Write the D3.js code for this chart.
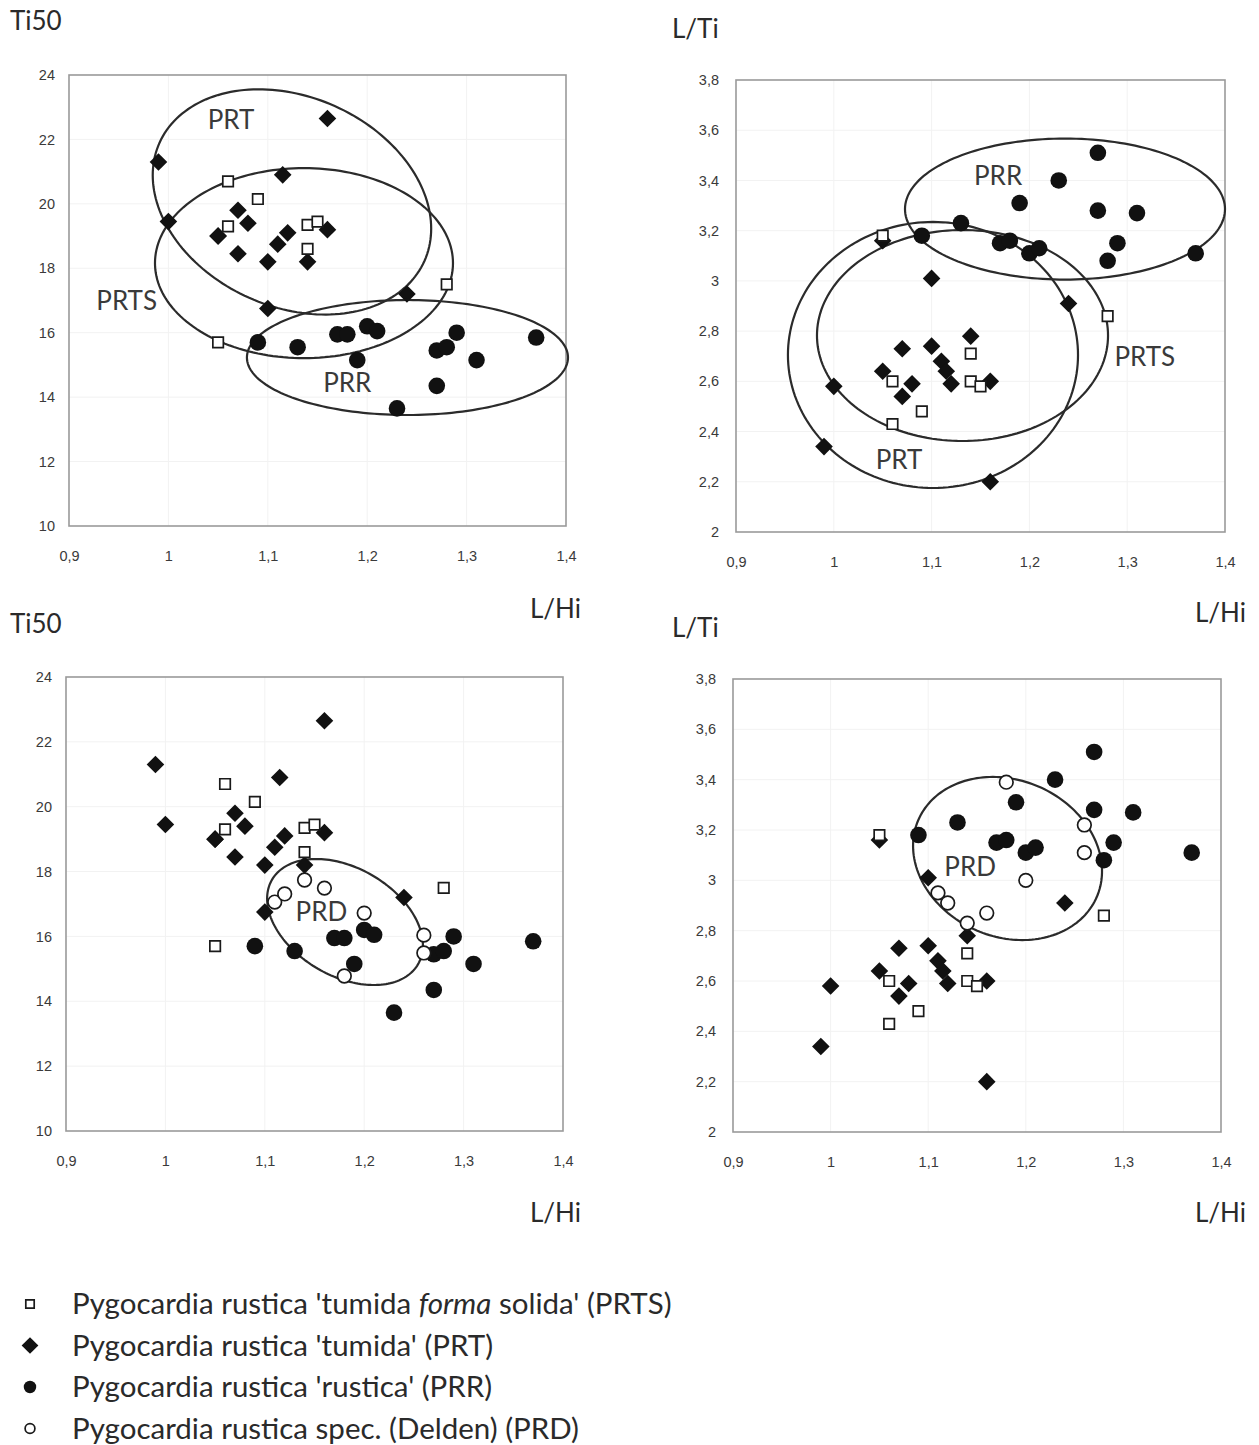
<!DOCTYPE html>
<html><head><meta charset="utf-8">
<script src="https://cdn.jsdelivr.net/npm/d3@7/dist/d3.min.js"></script>
<style>body{margin:0;background:#fff;} svg{display:block;}</style>
</head><body>
<svg id="chart" width="1259" height="1445"></svg>
<script>
// ---------- data ----------
const xTicks = [0.9, 1, 1.1, 1.2, 1.3, 1.4];
const ti50Ticks = [10, 12, 14, 16, 18, 20, 22, 24];
const ltiTicks = [2, 2.2, 2.4, 2.6, 2.8, 3, 3.2, 3.4, 3.6, 3.8];

// PRTS: Pygocardia rustica 'tumida forma solida'
const prtsLHi  = [1.05, 1.06, 1.06, 1.09, 1.14, 1.14, 1.15, 1.28];
const prtsTi50 = [15.7, 20.7, 19.3, 20.15, 19.35, 18.6, 19.45, 17.5];
const prtsLTi  = [3.18, 2.60, 2.43, 2.48, 2.71, 2.60, 2.58, 2.86];

// PRT: Pygocardia rustica 'tumida'
const prtLHi  = [0.99, 1.00, 1.05, 1.05, 1.07, 1.07, 1.08, 1.10, 1.10, 1.11, 1.115, 1.12, 1.14, 1.16, 1.16, 1.24];
const prtTi50 = [21.3, 19.45, 19.0, 19.0, 19.8, 18.45, 19.4, 18.2, 16.75, 18.75, 20.9, 19.1, 18.2, 22.65, 19.2, 17.2];
const prtLTi  = [2.34, 2.58, 3.16, 2.64, 2.73, 2.54, 2.59, 3.01, 2.74, 2.68, 2.64, 2.59, 2.78, 2.20, 2.60, 2.91];

// PRR: Pygocardia rustica 'rustica'
const prrLHi  = [1.09, 1.13, 1.17, 1.18, 1.19, 1.20, 1.21, 1.23, 1.27, 1.27, 1.28, 1.29, 1.31, 1.37];
const prrTi50 = [15.7, 15.55, 15.95, 15.95, 15.15, 16.2, 16.05, 13.65, 15.45, 14.35, 15.55, 16.0, 15.15, 15.85];
const prrLTi  = [3.18, 3.23, 3.15, 3.16, 3.31, 3.11, 3.13, 3.40, 3.51, 3.28, 3.08, 3.15, 3.27, 3.11];

// PRD: Pygocardia rustica spec. (Delden)
const prdLHi  = [1.11, 1.12, 1.14, 1.16, 1.18, 1.20, 1.26, 1.26];
const prdTi50 = [17.06, 17.31, 17.74, 17.49, 14.78, 16.72, 16.04, 15.49];
const prdLTi  = [2.95, 2.91, 2.83, 2.87, 3.39, 3.00, 3.22, 3.11];

// group ellipses in data units: centre and two conjugate semi-axis vectors
const ellTi50Top = [
  {name: "PRT",  c: [1.1243, 20.06], u: [0.1333, -1.832], v: [-0.0430, -2.977], lab: [1.063, 22.6]},
  {name: "PRTS", c: [1.1364, 18.16], u: [0.1499, 0],      v: [0, -2.949],       lab: [0.958, 17.0]},
  {name: "PRR",  c: [1.2405, 15.23], u: [0.1615, 0],      v: [0, -1.785],       lab: [1.18, 14.45]}
];
const ellLTiTop = [
  {name: "PRR",  c: [1.2364, 3.286], u: [0.1636, 0], v: [0, -0.2808], lab: [1.168, 3.42]},
  {name: "PRT",  c: [1.1014, 2.705], u: [0.1483, 0], v: [0, -0.5297], lab: [1.0667, 2.29]},
  {name: "PRTS", c: [1.1316, 2.7825], u: [0.1488, 0], v: [0, -0.4202], lab: [1.318, 2.70]}
];
const ellTi50Bottom = [
  {name: "PRD", c: [1.1807, 16.445], u: [0.0735, -1.301], v: [-0.0272, -1.443], lab: [1.157, 16.75]}
];
const ellLTiBottom = [
  {name: "PRD", c: [1.1813, 3.0868], u: [0.0915, -0.1522], v: [-0.0316, -0.2861], lab: [1.143, 3.053]}
];

const legendLabels = [
  ["Pygocardia rustica 'tumida ", "forma", " solida' (PRTS)"],
  ["Pygocardia rustica 'tumida' (PRT)"],
  ["Pygocardia rustica 'rustica' (PRR)"],
  ["Pygocardia rustica spec. (Delden) (PRD)"]
];

// ---------- drawing ----------
const svg = d3.select("#chart");
const loc = d3.formatLocale({decimal: ",", thousands: ".", grouping: [3], currency: ["", ""]});
const fmtTick = v => Math.abs(v - Math.round(v)) < 1e-9 ? loc.format(".0f")(v) : loc.format(".1f")(v);

const TITLE_FONT = "Lato, 'Open Sans', sans-serif";
const TICK_FONT = "'Liberation Sans', Arial, sans-serif";

function marker(sel, shape, scale = 1) {
  if (shape === "square") {
    sel.append("path").attr("d", d3.symbol(d3.symbolSquare, 110 * scale * scale)())
      .attr("fill", "#fff").attr("stroke", "#1a1a1a").attr("stroke-width", 1.7);
  } else if (shape === "diamond") {
    sel.append("path").attr("d", d3.symbol(d3.symbolSquare, 155 * scale * scale)())
      .attr("transform", "rotate(45)").attr("fill", "#111");
  } else if (shape === "disc") {
    sel.append("circle").attr("r", 8.3 * scale).attr("fill", "#111");
  } else {
    sel.append("circle").attr("r", 6.8 * scale).attr("fill", "#fff")
      .attr("stroke", "#1a1a1a").attr("stroke-width", 1.7);
  }
}

function panel(opt) {
  const g = svg.append("g");
  const x = d3.scaleLinear().domain([0.9, 1.4]).range([opt.x0, opt.x1]);
  const y = d3.scaleLinear().domain([opt.yTicks[0], opt.yTicks[opt.yTicks.length - 1]]).range([opt.y1, opt.y0]);

  // very faint grid
  g.append("g").selectAll("line").data(xTicks.slice(1, -1)).join("line")
    .attr("x1", d => x(d)).attr("x2", d => x(d)).attr("y1", opt.y0).attr("y2", opt.y1)
    .attr("stroke", "#f2f2f2").attr("stroke-width", 1);
  g.append("g").selectAll("line").data(opt.yTicks.slice(1, -1)).join("line")
    .attr("y1", d => y(d)).attr("y2", d => y(d)).attr("x1", opt.x0).attr("x2", opt.x1)
    .attr("stroke", "#f2f2f2").attr("stroke-width", 1);

  // frame
  g.append("rect").attr("x", opt.x0).attr("y", opt.y0)
    .attr("width", opt.x1 - opt.x0).attr("height", opt.y1 - opt.y0)
    .attr("fill", "none").attr("stroke", "#9a9a9a").attr("stroke-width", 1.6);

  // axes
  const ax = g.append("g").attr("transform", `translate(0,${opt.y1})`)
    .call(d3.axisBottom(x).tickValues(xTicks).tickSize(0).tickPadding(25).tickFormat(fmtTick));
  const ay = g.append("g").attr("transform", `translate(${opt.x0},0)`)
    .call(d3.axisLeft(y).tickValues(opt.yTicks).tickSize(0).tickPadding(opt.yPad).tickFormat(fmtTick));
  [ax, ay].forEach(a => {
    a.select(".domain").remove();
    a.selectAll("text").attr("font-family", TICK_FONT).attr("font-size", 14.5).attr("fill", "#3a3a3a");
  });

  // ellipses
  const ts = d3.range(0, 2 * Math.PI, Math.PI / 90);
  const line = d3.line().curve(d3.curveLinearClosed);
  opt.ellipses.forEach(e => {
    const pts = ts.map(t => [
      x(e.c[0] + Math.cos(t) * e.u[0] + Math.sin(t) * e.v[0]),
      y(e.c[1] + Math.cos(t) * e.u[1] + Math.sin(t) * e.v[1])
    ]);
    g.append("path").attr("d", line(pts)).attr("fill", "none")
      .attr("stroke", "#2b2b2b").attr("stroke-width", 2.2);
  });
  opt.ellipses.forEach(e => {
    g.append("text").attr("x", x(e.lab[0])).attr("y", y(e.lab[1]))
      .attr("text-anchor", "middle").attr("dy", "0.36em")
      .attr("font-family", TITLE_FONT).attr("font-size", 26).attr("fill", "#3a3a3a")
      .text(e.name);
  });

  // points
  opt.series.forEach(s => {
    const data = s.xs.map((v, i) => [v, s.ys[i]]);
    g.append("g").selectAll("g").data(data).join("g")
      .attr("transform", d => `translate(${x(d[0])},${y(d[1])})`)
      .each(function () { marker(d3.select(this), s.shape); });
  });

  // axis titles
  g.append("text").attr("x", opt.yTitle[0]).attr("y", opt.yTitle[1])
    .attr("font-family", TITLE_FONT).attr("font-size", 26).attr("fill", "#2a2a2a").text(opt.yLabel);
  g.append("text").attr("x", opt.xTitle[0]).attr("y", opt.xTitle[1])
    .attr("font-family", TITLE_FONT).attr("font-size", 26).attr("fill", "#2a2a2a").text("L/Hi");
}

panel({
  x0: 69, x1: 566, y0: 75, y1: 526, yTicks: ti50Ticks, yPad: 14,
  yLabel: "Ti50", yTitle: [10, 30], xTitle: [530, 618],
  ellipses: ellTi50Top,
  series: [
    {shape: "disc", xs: prrLHi, ys: prrTi50},
    {shape: "diamond", xs: prtLHi, ys: prtTi50},
    {shape: "square", xs: prtsLHi, ys: prtsTi50}
  ]
});
panel({
  x0: 736, x1: 1225, y0: 80, y1: 532, yTicks: ltiTicks, yPad: 17,
  yLabel: "L/Ti", yTitle: [672, 38], xTitle: [1195, 622],
  ellipses: ellLTiTop,
  series: [
    {shape: "disc", xs: prrLHi, ys: prrLTi},
    {shape: "diamond", xs: prtLHi, ys: prtLTi},
    {shape: "square", xs: prtsLHi, ys: prtsLTi}
  ]
});
panel({
  x0: 66, x1: 563, y0: 677, y1: 1131, yTicks: ti50Ticks, yPad: 14,
  yLabel: "Ti50", yTitle: [10, 633], xTitle: [530, 1222],
  ellipses: ellTi50Bottom,
  series: [
    {shape: "disc", xs: prrLHi, ys: prrTi50},
    {shape: "diamond", xs: prtLHi, ys: prtTi50},
    {shape: "square", xs: prtsLHi, ys: prtsTi50},
    {shape: "ring", xs: prdLHi, ys: prdTi50}
  ]
});
panel({
  x0: 733, x1: 1221, y0: 679, y1: 1132, yTicks: ltiTicks, yPad: 17,
  yLabel: "L/Ti", yTitle: [672, 637], xTitle: [1195, 1222],
  ellipses: ellLTiBottom,
  series: [
    {shape: "disc", xs: prrLHi, ys: prrLTi},
    {shape: "diamond", xs: prtLHi, ys: prtLTi},
    {shape: "square", xs: prtsLHi, ys: prtsLTi},
    {shape: "ring", xs: prdLHi, ys: prdLTi}
  ]
});

// legend
const legShapes = ["square", "diamond", "disc", "ring"];
const legScale = [0.8, 0.95, 0.75, 0.72];
const leg = svg.append("g");
legendLabels.forEach((parts, i) => {
  const yy = 1304 + i * 41.5;
  const m = leg.append("g").attr("transform", `translate(30,${yy})`);
  marker(m, legShapes[i], legScale[i]);
  const t = leg.append("text").attr("x", 72).attr("y", yy + 10)
    .attr("font-family", TITLE_FONT).attr("font-size", 29.5).attr("fill", "#2a2a2a");
  parts.forEach((p, j) => {
    t.append("tspan").attr("font-style", (parts.length === 3 && j === 1) ? "italic" : "normal").text(p);
  });
});
</script>
</body></html>
